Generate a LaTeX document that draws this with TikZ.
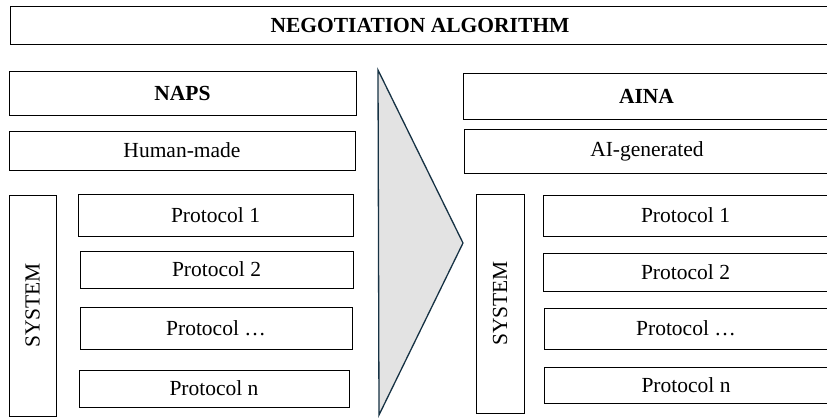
\documentclass[tikz,border=0pt]{standalone}
\usepackage{fontspec}
\setmainfont{Liberation Serif}
\definecolor{arrowedge}{RGB}{22,50,68}
\definecolor{arrowfill}{RGB}{227,227,227}
\begin{document}
\begin{tikzpicture}[x=1pt,y=-1pt,
  box/.style={draw=black,line width=1pt,inner sep=0pt,font=\fontsize{21.5}{24}\selectfont},
  bbox/.style={box,font=\fontsize{21.5}{24}\selectfont\bfseries},
  sysbox/.style={box,rotate=90}]
\useasboundingbox (0,0) rectangle (827,418);
\clip (0,0) rectangle (827,418);
\node[bbox,minimum width=820pt,minimum height=38pt] (title) at (420,25) {NEGOTIATION ALGORITHM};
% left
\node[bbox,minimum width=347pt,minimum height=44pt] (naps) at (182.5,93) {NAPS};
\node[box,minimum width=346pt,minimum height=39pt] (human) at (182,150.5) {Human-made};
\node[sysbox,minimum width=221pt,minimum height=47pt] (sysl) at (32.5,305.5) {SYSTEM};
\node[box,minimum width=275pt,minimum height=42pt] (lp1) at (215.5,215) {Protocol 1};
\node[box,minimum width=273pt,minimum height=37pt] (lp2) at (216.5,269.5) {Protocol 2};
\node[box,minimum width=272pt,minimum height=42pt] (lp3) at (216,328) {Protocol \dots};
\node[box,minimum width=270pt,minimum height=37pt] (lpn) at (214,388.5) {Protocol n};
% arrow
\filldraw[fill=arrowfill,draw=arrowedge,line width=1.3pt,line join=miter] (378,70) -- (463,243) -- (379,415) -- cycle;
% right
\node[bbox,minimum width=367pt,minimum height=46pt] (aina) at (646.5,96) {AINA};
\node[box,minimum width=366pt,minimum height=44pt] (aigen) at (647,151) {AI-generated};
\node[sysbox,minimum width=219pt,minimum height=48pt] (sysr) at (500,303.5) {SYSTEM};
\node[box,minimum width=285pt,minimum height=41pt] (rp1) at (685.5,215.5) {Protocol 1};
\node[box,minimum width=285pt,minimum height=38pt] (rp2) at (685.5,272) {Protocol 2};
\node[box,minimum width=284pt,minimum height=41pt] (rp3) at (686,328.5) {Protocol \dots};
\node[box,minimum width=284pt,minimum height=36pt] (rpn) at (686,385) {Protocol n};
\end{tikzpicture}
\end{document}
